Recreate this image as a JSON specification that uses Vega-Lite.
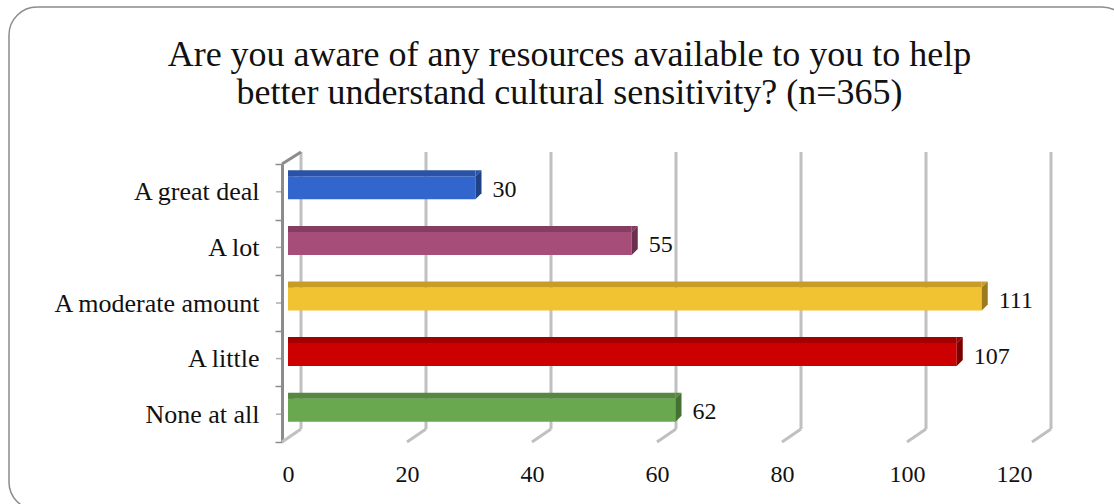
{
  "$schema": "https://vega.github.io/schema/vega-lite/v6.json",
  "width": 1121,
  "height": 503,
  "autosize": {"type": "none"},
  "padding": {"left": 9, "top": 7, "right": 0, "bottom": 0},
  "background": "white",
  "config": {
    "view": {"stroke": "#8c8c8c", "strokeWidth": 1.5, "cornerRadius": 28, "fill": "white"},
    "font": "Liberation Serif",
    "axisX": {
      "tickCount": 6, "domain": false, "ticks": false, "grid": false,
      "labelOffset": -6, "offset": -48, "labelPadding": 0,
      "labelFont": "Liberation Serif", "labelFontSize": 24, "labelColor": "#111"
    },
    "axisY": {
      "offset": -273, "domainColor": "#8c8c8c", "domainWidth": 3,
      "tickColor": "#8c8c8c", "tickWidth": 1.5, "tickSize": 7,
      "tickBand": "extent", "tickExtra": true, "grid": false,
      "labelPadding": 16, "labelFont": "Liberation Serif", "labelFontSize": 26,
      "labelColor": "#111", "labelLimit": 400
    }
  },
  "title": {
    "text": ["Are you aware of any resources available to you to help", "better understand cultural sensitivity? (n=365)"],
    "font": "Liberation Serif", "fontSize": 36, "fontWeight": "normal", "color": "#111",
    "anchor": "middle", "frame": "group", "offset": -118, "lineHeight": 38
  },
  "datasets": {
    "answers": [
      {"answer": "A great deal", "count": 30},
      {"answer": "A lot", "count": 55},
      {"answer": "A moderate amount", "count": 111},
      {"answer": "A little", "count": 107},
      {"answer": "None at all", "count": 62}
    ],
    "ticks": [{"v": 0}, {"v": 20}, {"v": 40}, {"v": 60}, {"v": 80}, {"v": 100}, {"v": 120}]
  },
  "data": {"name": "answers"},
  "layer": [
    {
      "data": {"name": "ticks"},
      "mark": {"type": "rule", "color": "#c0c0c0", "strokeWidth": 3, "xOffset": 13},
      "encoding": {
        "x": {"field": "v", "type": "quantitative", "title": null,
              "scale": {"domain": [0, 120], "range": [279, 1029], "nice": false}},
        "y": {"value": 145},
        "y2": {"value": 422}
      }
    },
    {
      "data": {"name": "ticks"},
      "mark": {"type": "rule", "color": "#c0c0c0", "strokeWidth": 3, "xOffset": 13, "x2Offset": -6},
      "encoding": {
        "x": {"field": "v", "type": "quantitative", "title": null},
        "x2": {"field": "v"},
        "y": {"value": 422},
        "y2": {"value": 435}
      }
    },
    {
      "data": {"name": "ticks"},
      "transform": [{"filter": "datum.v == 0"}],
      "mark": {"type": "rule", "color": "#8c8c8c", "strokeWidth": 3, "xOffset": -6, "x2Offset": 13},
      "encoding": {
        "x": {"field": "v", "type": "quantitative", "title": null},
        "x2": {"field": "v"},
        "y": {"value": 157},
        "y2": {"value": 145}
      }
    },
    {
      "mark": {"type": "bar", "height": {"band": 0.414}, "yOffset": -4},
      "encoding": {
        "x": {"field": "count", "type": "quantitative", "title": null},
        "y": {"field": "answer", "type": "nominal", "sort": null, "title": null,
              "scale": {"range": [157, 435], "paddingInner": 0, "paddingOuter": 0}},
        "color": {"field": "answer", "type": "nominal", "sort": null, "legend": null,
                  "scale": {"range": ["#3366cc", "#a64d79", "#f1c232", "#cc0000", "#6aa84f"]}}
      }
    },
    {
      "mark": {"type": "bar", "height": {"band": 0.108}, "yOffset": -18.5, "x2Offset": 6},
      "encoding": {
        "x": {"field": "count", "type": "quantitative", "title": null},
        "y": {"field": "answer", "type": "nominal", "sort": null, "title": null},
        "color": {"field": "answer", "type": "nominal", "sort": null, "legend": null,
                  "scale": {"range": ["#2a53a6", "#853d61", "#c79d28", "#a30000", "#56893f"]}}
      }
    },
    {
      "mark": {"type": "point", "shape": "M0,0L6,-6L6,0Z", "size": 4, "filled": true, "opacity": 1, "yOffset": -15.5},
      "encoding": {
        "x": {"datum": 0, "type": "quantitative", "title": null},
        "y": {"field": "answer", "type": "nominal", "sort": null, "title": null},
        "color": {"field": "answer", "type": "nominal", "sort": null, "legend": null,
                  "scale": {"range": ["#2a53a6", "#853d61", "#c79d28", "#a30000", "#56893f"]}}
      }
    },
    {
      "mark": {"type": "point", "shape": "M0,0L0,-6L6,-6Z", "size": 4, "filled": true, "opacity": 1, "yOffset": -15.5},
      "encoding": {
        "x": {"field": "count", "type": "quantitative", "title": null},
        "y": {"field": "answer", "type": "nominal", "sort": null, "title": null},
        "color": {"field": "answer", "type": "nominal", "sort": null, "legend": null,
                  "scale": {"range": ["#2a53a6", "#853d61", "#c79d28", "#a30000", "#56893f"]}}
      }
    },
    {
      "mark": {"type": "point", "shape": "M0,0L6,-6L6,17L0,23Z", "size": 4, "filled": true, "opacity": 1, "yOffset": -15.5},
      "encoding": {
        "x": {"field": "count", "type": "quantitative", "title": null},
        "y": {"field": "answer", "type": "nominal", "sort": null, "title": null},
        "color": {"field": "answer", "type": "nominal", "sort": null, "legend": null,
                  "scale": {"range": ["#1f4185", "#6b3050", "#9c7b1e", "#7d0000", "#447034"]}}
      }
    },
    {
      "mark": {"type": "tick", "orient": "horizontal", "color": "#8c8c8c", "thickness": 1.5, "size": 6, "xOffset": -9},
      "encoding": {
        "x": {"datum": 0, "type": "quantitative", "title": null},
        "y": {"field": "answer", "type": "nominal", "sort": null, "title": null}
      }
    },
    {
      "mark": {"type": "text", "align": "left", "baseline": "middle", "dx": 17, "yOffset": -2,
               "font": "Liberation Serif", "fontSize": 24, "color": "#111"},
      "encoding": {
        "x": {"field": "count", "type": "quantitative", "title": null},
        "y": {"field": "answer", "type": "nominal", "sort": null, "title": null},
        "text": {"field": "count", "type": "quantitative"}
      }
    }
  ],
  "resolve": {"scale": {"color": "independent"}}
}
